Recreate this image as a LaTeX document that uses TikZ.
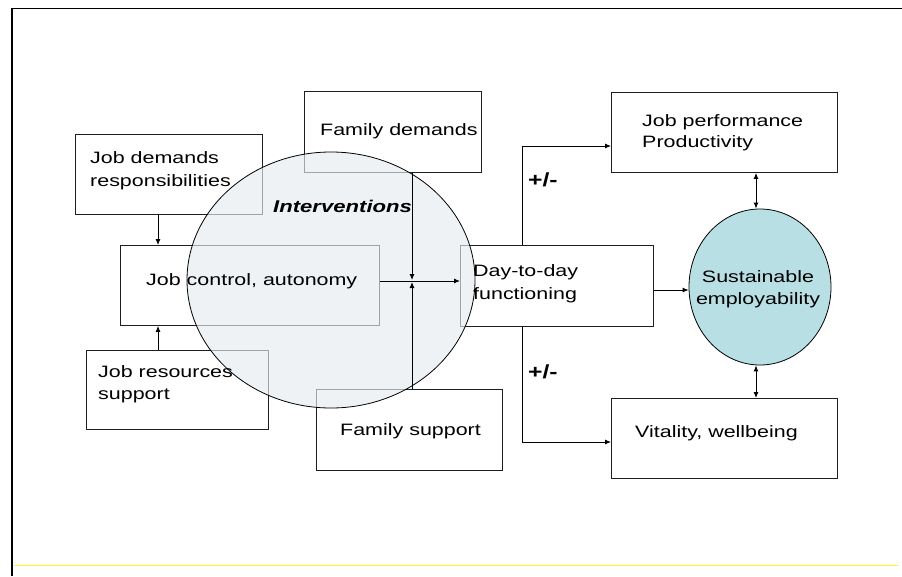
\documentclass[tikz,border=0pt]{standalone}
\usepackage{fontspec}
\setmainfont{Liberation Sans}
\usetikzlibrary{arrows.meta,shapes.geometric}
\newcommand{\hs}[1]{\scalebox{1.3}[1]{#1}}
\definecolor{teal1}{RGB}{184,224,228}
\definecolor{interv}{RGB}{230,236,240}
\definecolor{boxline}{RGB}{30,30,30}
\begin{document}
\begin{tikzpicture}[x=1pt,y=-1pt,
  box/.style={draw=boxline, line width=0.9pt, fill=white, inner sep=0pt, anchor=north west},
  lbl/.style={font=\fontsize{16.5}{22}\selectfont, align=left, anchor=west, inner sep=0pt, text=black},
  arr/.style={-{Latex[length=6pt,width=5pt]}, line width=0.9pt},
  darr/.style={{Latex[length=6pt,width=5pt]}-{Latex[length=6pt,width=5pt]}, line width=0.9pt}]
\useasboundingbox (0,0) rectangle (902,576);
\fill[white] (0,0) rectangle (902,576);
% frame
\draw[line width=1.6pt] (12,576) -- (12,8.5) -- (902,8.5);
\draw[line width=1pt, yellow!85!white] (14,565) -- (898,565);
% boxes
\node[box, minimum width=187pt, minimum height=80pt] (jd) at (75,134) {};
\node[box, minimum width=177pt, minimum height=81pt] (fd) at (304,91) {};
\node[box, minimum width=259pt, minimum height=80pt] (jc) at (120,245) {};
\node[box, minimum width=182pt, minimum height=79pt] (jr) at (86,350) {};
\node[box, minimum width=186pt, minimum height=81pt] (fs) at (316,389) {};
\node[box, minimum width=193pt, minimum height=81pt] (dd) at (460,245) {};
\node[box, minimum width=226pt, minimum height=80pt] (jp) at (611,92) {};
\node[box, minimum width=226pt, minimum height=80pt] (vw) at (611,398) {};
\node[ellipse, draw=black, line width=0.8pt, fill=teal1, minimum width=142pt, minimum height=156pt, inner sep=0pt] (se) at (760,287) {};
% interventions circle
\node[ellipse, draw=black, line width=0.8pt, fill=interv, fill opacity=0.65, draw opacity=1, minimum width=288pt, minimum height=256pt, inner sep=0pt] (iv) at (331,280) {};
% texts
\node[lbl, font=\fontsize{16.5}{23}\selectfont] (jdT) at (90,171) {\hs{Job demands}\\\hs{responsibilities}};
\node[lbl] (fdT) at (320,131) {\hs{Family demands}};
\node[lbl] (jcT) at (146,281) {\hs{Job control, autonomy}};
\node[lbl] (jrT) at (98,384) {\hs{Job resources}\\\hs{support}};
\node[lbl] (fsT) at (340,431) {\hs{Family support}};
\node[lbl, font=\fontsize{16.5}{23}\selectfont] (ddT) at (473,284) {\hs{Day-to-day}\\\hs{functioning}};
\node[lbl, font=\fontsize{16.5}{21}\selectfont] (jpT) at (642,133) {\hs{Job performance}\\\hs{Productivity}};
\node[lbl] (vwT) at (635,433) {\hs{Vitality, wellbeing}};
\node[lbl, align=center, anchor=center] (seT) at (758,289) {\hs{Sustainable}\\\hs{employability}};
\node[lbl, font=\fontsize{17}{20}\selectfont\bfseries\itshape] (ivT) at (273,206) {\hs{Interventions}};
\node[lbl, font=\fontsize{19}{20}\selectfont\bfseries] (pm1) at (528,180) {\hs{+/-}};
\node[lbl, font=\fontsize{19}{20}\selectfont\bfseries] (pm2) at (528,372) {\hs{+/-}};
% helper coordinates
\coordinate (ax) at (158,0);
\coordinate (fx) at (412,0);
\coordinate (hy) at (0,281);
\coordinate (vx) at (522,0);
\coordinate (py) at (0,146);
\coordinate (qy) at (0,442);
\coordinate (ry) at (0,290);
\coordinate (dx) at (756,0);
% connectors
\draw[arr] (jd.south -| ax) -- (jc.north -| ax);
\draw[arr] (jr.north -| ax) -- (jc.south -| ax);
\draw[arr] (jc.east |- hy) -- (dd.west |- hy);
\draw[arr, shorten >=1pt] (fd.south -| fx) -- (fx |- hy);
\draw[arr, shorten >=1pt] (fs.north -| fx) -- (fx |- hy);
\draw[arr] (dd.north -| vx) |- (jp.west |- py);
\draw[arr] (dd.south -| vx) |- (vw.west |- qy);
\draw[arr] (dd.east |- ry) -- (se.west |- ry);
\draw[darr] (jp.south -| dx) -- (se.north -| dx);
\draw[darr] (se.south -| dx) -- (vw.north -| dx);
\end{tikzpicture}
\end{document}
